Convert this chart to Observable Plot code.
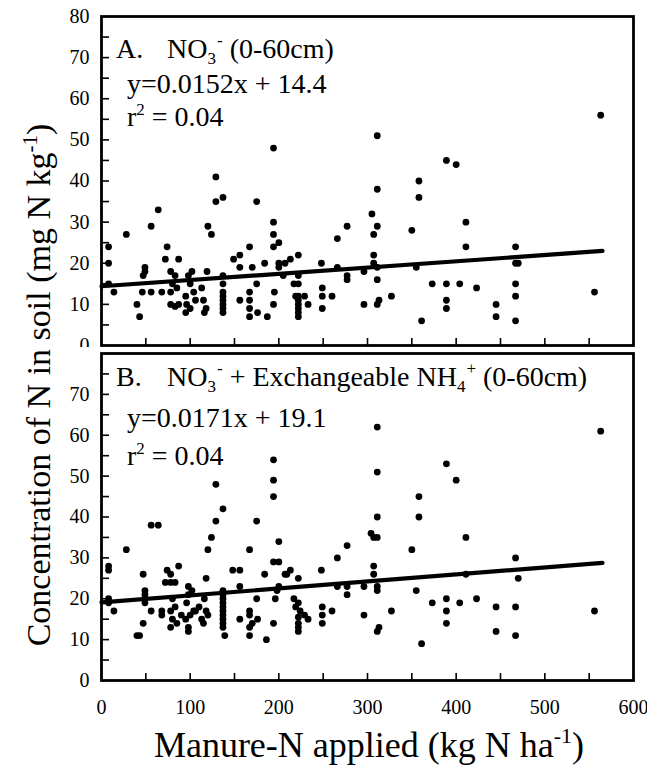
<!DOCTYPE html>
<html>
<head>
<meta charset="utf-8">
<script src="https://cdn.jsdelivr.net/npm/d3@7"></script>
<script src="https://cdn.jsdelivr.net/npm/@observablehq/plot@0.6"></script>
<style>
  body { margin: 0; background: white; }
  #wrap { position: relative; width: 647px; height: 774px; overflow: hidden; background: white; }
  #wrap svg text { font-family: 'Liberation Serif', 'Times New Roman', serif; }
</style>
</head>
<body>
<div id="wrap"></div>
<script>
// ---------- data ----------
const panelAx = [8,8,8,14,28,40,43,46,47,49,49,56,56,64,68,
  72,74,78,78,78,80,83,83,85,87,87,
  95,95,96,98,100,100,102,104,106,
  113,115,116,118,119,120,124,129,129,137,
  137,137,137,137,137,137,137,137,
  149,156,156,156,
  167,167,167,167,167,170,175,175,176,
  184,187,194,194,194,194,194,195,200,200,200,
  205,207,213,217,219,222,222,222,222,222,222,222,222,222,229,233,
  248,249,249,249,260,266,266,277,277,277,296,296,
  305,307,307,307,311,311,311,311,311,311,313,327,
  350,355,358,358,361,373,389,389,389,389,400,404,
  411,411,423,445,445,467,467,470,467,467,467,556,563];
const panelAy = [24,20,15,13,27,10,7,13,17,19,18,29,13,33,13,
  21,24,18,13,10,15,17,9.5,14,21,10,
  12,8,10,17,15,9,18,13,11,
  14,11,8,9,18,29,27,41,35,36,
  17,15,13,12,11,10,9,8,
  21,22,19,11,
  24,13,11,9,7,19,35,15,8,
  20,7,48,30,27,24,10,13,25,20,19,
  17,20,21,15,12,22,17,15,12,11,10,9,8,7,12,10,
  20,14,12,9,12,26,19,29,17,16,18,10,
  32,27,22,20,51,38,29,19,16,10,11,12,
  28,19,40,36,6,15,45,15,11,9,44,15,
  30,24,14,10,7,24,20,20,15,12,6,13,56];

const panelBx = [8,8,8,8,14,28,40,43,47,47,49,49,49,49,56,56,64,68,68,
  72,74,78,78,83,87,80,78,80,85,78,83,90,
  98,102,98,96,104,100,95,98,98,106,
  110,113,116,118,120,115,118,120,124,129,129,137,
  137,137,137,137,137,137,137,137,137,137,139,
  148,156,156,156,167,167,167,167,167,170,175,175,176,184,186,
  194,194,194,194,194,196,198,200,200,200,
  207,209,213,222,217,222,219,224,229,233,222,222,222,222,
  248,249,249,249,260,266,266,277,277,277,296,296,
  304,307,311,307,307,311,311,311,311,311,313,311,327,
  350,355,358,358,361,373,389,389,389,389,400,404,
  411,411,423,445,445,467,470,467,467,556,563];
const panelBy = [28,27,20,19,17,32,11,11,26,14,22,21,20,19,38,17,38,17,16,
  24,27,26,24,24,28,20,17,15,14,13,18,16,
  23,22,21,19,17,16,15,13,12,17,
  18,15,20,17,16,14,25,32,35,48,39,42,
  22,21,20,19,18,17,16,15,14,13,11,
  27,27,23,15,32,17,16,13,11,14,39,20,15,26,10,
  54,49,45,29,14,20,22,34,29,23,
  26,26,27,25,20,19,18,17,16,15,15.5,14,13,12,
  27,18,16,14,17,30,23,33,23,21,23,16,
  36,35,35,28,26,62,51,40,23,22,13,12,17,
  32,22,45,40,9,19,53,20,17,14,49,19,
  35,26,20,18,12,30,25,18,11,17,61];

// regression equations printed on the chart: [panel A, panel B]
const regSlope = [0.0152, 0.0171];
const regIntercept = [14.4, 19.1];
const regRange = [0, 565];

const yLabelsA = [0,10,20,30,40,50,60,70,80];
const yLabelsB = [0,10,20,30,40,50,60,70];
const xLabels = [0,100,200,300,400,500,600];
const yMinor = d3.range(5, 80, 5);
const xMinor = d3.range(50, 600, 50);

// ---------- drawing ----------
const FONT = "'Liberation Serif', 'Times New Roman', serif";
const W = 647, ML = 101, MR = 14;
const frameW = W - ML - MR;

function panel(xs, ys, k, opts) {
  const pts = xs.map((x, i) => ({x, y: ys[i]}));
  const reg = regRange.map(x => ({x, y: regSlope[k] * x + regIntercept[k]}));
  const frameH = opts.height - opts.marginTop - opts.marginBottom;
  return Plot.plot({
    width: W, height: opts.height,
    marginLeft: ML, marginRight: MR, marginTop: opts.marginTop, marginBottom: opts.marginBottom,
    style: {fontFamily: FONT, fontSize: "20px", background: "white", color: "black", overflow: "visible"},
    x: {domain: [0, 600], axis: null},
    y: {domain: [0, 80], axis: null},
    marks: [
      Plot.tickY(yMinor, {y: d => d, insetRight: frameW - 8, strokeWidth: 1.6}),
      Plot.tickX(xMinor, {x: d => d, insetTop: frameH - 7, strokeWidth: 1.6}),
      Plot.axisY(opts.yLabels, {tickSize: 0, tickPadding: 12, fontSize: 20, fontFamily: FONT, label: null}),
      opts.xAxis ? Plot.axisX(xLabels, {tickSize: 0, tickPadding: 19, fontSize: 20, fontFamily: FONT, label: null}) : null,
      Plot.dot(pts, {x: "x", y: "y", r: 3.4, fill: "black", stroke: null}),
      Plot.line(reg, {x: "x", y: "y", stroke: "black", strokeWidth: 4.2}),
      Plot.frame({stroke: "black", strokeWidth: 2.8})
    ]
  });
}

const wrap = document.getElementById("wrap");
const pA = panel(panelAx, panelAy, 0, {height: 350, marginTop: 16, marginBottom: 5, yLabels: yLabelsA, xAxis: false});
pA.style.position = "absolute"; pA.style.top = "0px"; pA.style.left = "0px";
wrap.appendChild(pA);
const pB = panel(panelBx, panelBy, 1, {height: 378, marginTop: 6, marginBottom: 45, yLabels: yLabelsB, xAxis: true});
pB.style.position = "absolute"; pB.style.top = "347px"; pB.style.left = "0px";
wrap.appendChild(pB);

// ---------- text overlay (titles & annotations with sub/superscripts) ----------
const NS = "http://www.w3.org/2000/svg";
const ov = document.createElementNS(NS, "svg");
ov.setAttribute("width", W); ov.setAttribute("height", 774);
ov.setAttribute("font-family", FONT);
ov.style.position = "absolute"; ov.style.top = "0px"; ov.style.left = "0px";
ov.innerHTML = `
  <g font-size="28" fill="black">
    <text x="116" y="58">A.</text>
    <text x="167" y="58">NO<tspan font-size="17" dy="6">3</tspan><tspan font-size="17" dx="1" dy="-18">-</tspan><tspan dy="12"> (0-60cm)</tspan></text>
    <text x="127" y="93">y=0.0152x + 14.4</text>
    <text x="127" y="126">r<tspan font-size="17" dy="-11">2</tspan><tspan dy="11"> = 0.04</tspan></text>

    <text x="116" y="386">B.</text>
    <text x="167" y="386">NO<tspan font-size="17" dy="6">3</tspan><tspan font-size="17" dx="1" dy="-18">-</tspan><tspan dy="12"> + Exchangeable NH</tspan><tspan font-size="17" dy="6">4</tspan><tspan font-size="17" dx="1" dy="-18">+</tspan><tspan dy="12"> (0-60cm)</tspan></text>
    <text x="127" y="427">y=0.0171x + 19.1</text>
    <text x="127" y="465">r<tspan font-size="17" dy="-11">2</tspan><tspan dy="11"> = 0.04</tspan></text>
  </g>
  <text font-size="36" text-anchor="middle" x="369" y="757">Manure-N applied (kg N ha<tspan font-size="22" dy="-14">-1</tspan><tspan dy="14">)</tspan></text>
  <text font-size="34" text-anchor="middle" transform="translate(50,385) rotate(-90)">Concentration of N in soil (mg N kg<tspan font-size="21" dy="-13">-1</tspan><tspan dy="13">)</tspan></text>
`;
wrap.appendChild(ov);
</script>
</body>
</html>
